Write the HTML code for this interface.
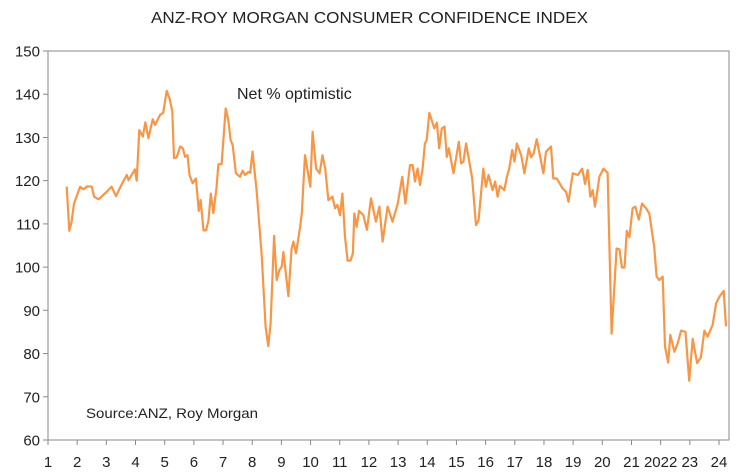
<!DOCTYPE html>
<html><head><meta charset="utf-8"><style>
html,body{margin:0;padding:0;background:#fff;}
svg{display:block;font-family:"Liberation Sans",sans-serif;}
</style></head><body>
<svg id="chart" width="736" height="472" viewBox="0 0 736 472" xmlns="http://www.w3.org/2000/svg">
<text x="151" y="23" font-size="16" fill="#222" textLength="437" lengthAdjust="spacingAndGlyphs">ANZ-ROY MORGAN CONSUMER CONFIDENCE INDEX</text>
<rect x="48" y="51" width="681" height="389" fill="none" stroke="#8a8a8a" stroke-width="1"/>
<g id="yaxis"></g>
<g id="xaxis"></g>
<text x="237" y="99" font-size="16" fill="#222">Net % optimistic</text>
<text x="86" y="418" font-size="14" fill="#222" textLength="172" lengthAdjust="spacingAndGlyphs">Source:ANZ, Roy Morgan</text>
<path id="line" fill="none" stroke="#f79646" stroke-width="2.2" stroke-linejoin="round"/>
</svg>
<script>
const yTicks=[60,70,80,90,100,110,120,130,140,150];
const xLabels=["1","2","3","4","5","6","7","8","9","10","11","12","13","14","15","16","17","18","19","20","21","2022","23","24"];
const times=[1.64,1.73,1.81,1.89,2.10,2.21,2.35,2.50,2.58,2.73,3.01,3.18,3.33,3.53,3.70,3.76,3.98,4.04,4.13,4.25,4.34,4.44,4.59,4.67,4.84,4.95,5.07,5.18,5.26,5.32,5.41,5.53,5.62,5.70,5.78,5.85,5.96,6.07,6.17,6.23,6.33,6.42,6.50,6.58,6.67,6.78,6.84,6.95,7.09,7.18,7.26,7.33,7.44,7.58,7.67,7.75,7.87,7.93,8.01,8.15,8.33,8.46,8.55,8.63,8.75,8.84,8.93,9.01,9.07,9.24,9.35,9.41,9.50,9.64,9.70,9.81,9.99,10.07,10.19,10.31,10.41,10.50,10.61,10.75,10.84,10.92,11.01,11.09,11.18,11.27,11.37,11.45,11.50,11.58,11.66,11.81,11.93,12.07,12.24,12.36,12.47,12.64,12.81,12.99,13.14,13.25,13.41,13.50,13.58,13.67,13.75,13.84,13.92,13.98,14.07,14.24,14.33,14.41,14.50,14.59,14.67,14.74,14.90,15.08,15.16,15.24,15.33,15.54,15.67,15.76,15.92,16.01,16.10,16.24,16.33,16.41,16.49,16.64,16.73,16.81,16.91,16.99,17.07,17.22,17.33,17.48,17.56,17.65,17.75,17.87,17.98,18.07,18.24,18.32,18.44,18.64,18.76,18.84,18.99,19.16,19.31,19.41,19.50,19.59,19.67,19.75,19.90,20.04,20.18,20.32,20.49,20.59,20.67,20.76,20.84,20.93,21.04,21.13,21.25,21.36,21.50,21.61,21.78,21.86,21.95,22.07,22.15,22.26,22.33,22.47,22.58,22.70,22.85,22.98,23.10,23.25,23.38,23.50,23.61,23.78,23.90,24.01,24.16,24.24];
const values=[118.6,108.4,110.5,114.7,118.6,118,118.7,118.6,116.3,115.7,117.4,118.6,116.4,119.2,121.3,120.1,122.6,120,131.7,130.2,133.5,129.8,134.2,132.9,135.2,135.7,140.8,138.7,136,125.2,125.4,127.9,127.5,125.5,125.9,121.3,119.4,120.5,113,115.5,108.5,108.5,110.8,117,112.5,118.6,123.8,123.8,136.7,134,129.4,128.2,121.7,120.9,122.3,121.3,122,121.8,126.7,117.8,102.4,86.2,81.7,87,107.2,97,99.3,100.1,103.5,93.3,104.3,105.9,103.2,109.3,112.4,125.9,118.6,131.3,122.8,121.7,125.9,122.8,115.5,116.3,113.6,114.4,112,117,107,101.5,101.5,103.2,112.4,109.3,113,112,108.6,115.9,110.5,114,105.9,114,110.5,114.7,120.9,114.7,123.6,123.6,119.8,122.8,119,122.8,128.6,129.4,135.7,132.1,133.4,127.5,132.1,132.5,125.5,127.5,121.7,129,124,124.4,128.6,120.5,109.7,110.9,122.8,118.6,121.3,117.8,119.8,116.3,118.8,117.8,120.9,122.8,127.1,124.4,128.6,125.9,121.7,127.5,125.4,126.3,129.6,125.5,121.7,126.7,127.9,120.5,120.5,118.2,117.4,115.1,121.7,121.3,122.8,119.2,122.5,116.3,117.8,114,120.9,122.8,121.8,84.6,104.3,104.1,99.9,99.9,108.4,106.9,113.6,114,111,114.7,113.6,112.4,104.7,97.8,97,97.8,81.6,77.9,84.3,80.4,82.3,85.3,85,73.7,83.4,77.8,79.1,85.3,83.9,86.6,91.6,93.1,94.5,86.3];

const NS="http://www.w3.org/2000/svg";
const L=48,R=729,T=51,B=440;
function xScale(t){return L+(t-1)*(719-L)/23;}
function yScale(v){return B-(v-60)*(B-T)/90;}
const ya=document.getElementById('yaxis'),xa=document.getElementById('xaxis');
yTicks.forEach(v=>{
  const y=yScale(v);
  const ln=document.createElementNS(NS,'line');
  
  
  ln.setAttribute('x1',L-5);ln.setAttribute('x2',L);ln.setAttribute('y1',y);ln.setAttribute('y2',y);
  ln.setAttribute('stroke','#8a8a8a');ya.appendChild(ln);
  const tx=document.createElementNS(NS,'text');
  
  
  tx.setAttribute('x',L-8);tx.setAttribute('y',y+5.5);tx.setAttribute('text-anchor','end');
  tx.setAttribute('font-size','15');tx.setAttribute('fill','#222');tx.textContent=v;ya.appendChild(tx);
});
xLabels.forEach((lab,i)=>{
  const x=xScale(i+1);
  const ln=document.createElementNS(NS,'line');
  
  
  ln.setAttribute('x1',x);ln.setAttribute('x2',x);ln.setAttribute('y1',B);ln.setAttribute('y2',B+5);
  ln.setAttribute('stroke','#8a8a8a');xa.appendChild(ln);
  const tx=document.createElementNS(NS,'text');
  
  
  tx.setAttribute('x',x);tx.setAttribute('y',467);tx.setAttribute('text-anchor','middle');
  tx.setAttribute('font-size','15');tx.setAttribute('fill','#222');tx.textContent=lab;xa.appendChild(tx);
});
document.getElementById('line').setAttribute('d',times.map((t,i)=>(i?'L':'M')+xScale(t).toFixed(1)+','+yScale(values[i]).toFixed(1)).join(''));
</script>
</body></html>
